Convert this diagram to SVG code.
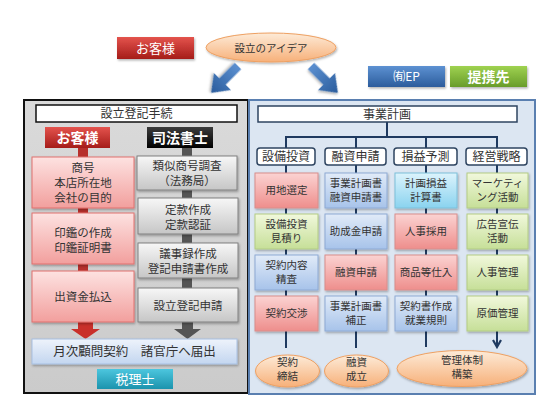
<svg xmlns="http://www.w3.org/2000/svg" width="540" height="405" viewBox="0 0 540 405">
<defs>
<linearGradient id="gRedHdr" x1="0" y1="0" x2="0" y2="1"><stop offset="0" stop-color="#e4534d"/><stop offset="1" stop-color="#a51c19"/></linearGradient>
<linearGradient id="gBlackHdr" x1="0" y1="0" x2="0" y2="1"><stop offset="0" stop-color="#3c3c3c"/><stop offset="1" stop-color="#000"/></linearGradient>
<linearGradient id="gPink" x1="0" y1="0" x2="0" y2="1"><stop offset="0" stop-color="#fde2e1"/><stop offset="1" stop-color="#f29f9d"/></linearGradient>
<linearGradient id="gGrey" x1="0" y1="0" x2="0" y2="1"><stop offset="0" stop-color="#f7f7f7"/><stop offset="1" stop-color="#c6c6c6"/></linearGradient>
<linearGradient id="gLBlue" x1="0" y1="0" x2="0" y2="1"><stop offset="0" stop-color="#eef3fb"/><stop offset="1" stop-color="#c3d6f0"/></linearGradient>
<linearGradient id="gTeal" x1="0" y1="0" x2="0" y2="1"><stop offset="0" stop-color="#4cc6de"/><stop offset="1" stop-color="#1b93ad"/></linearGradient>
<linearGradient id="gEP" x1="0" y1="0" x2="0" y2="1"><stop offset="0" stop-color="#5d91d2"/><stop offset="1" stop-color="#2c5c9c"/></linearGradient>
<linearGradient id="gGreenBtn" x1="0" y1="0" x2="0" y2="1"><stop offset="0" stop-color="#9fd250"/><stop offset="1" stop-color="#689c2a"/></linearGradient>
<linearGradient id="gR" x1="0" y1="0" x2="0" y2="1"><stop offset="0" stop-color="#fbd3d2"/><stop offset="1" stop-color="#ee8e8c"/></linearGradient>
<linearGradient id="gG" x1="0" y1="0" x2="0" y2="1"><stop offset="0" stop-color="#f1f8dc"/><stop offset="1" stop-color="#c6df98"/></linearGradient>
<linearGradient id="gB" x1="0" y1="0" x2="0" y2="1"><stop offset="0" stop-color="#e1ebf8"/><stop offset="1" stop-color="#a7c3ea"/></linearGradient>
<linearGradient id="gC" x1="0" y1="0" x2="0" y2="1"><stop offset="0" stop-color="#dcf3fc"/><stop offset="1" stop-color="#8ad3ef"/></linearGradient>
<linearGradient id="gO" x1="0" y1="0" x2="0" y2="1"><stop offset="0" stop-color="#fdebd8"/><stop offset="1" stop-color="#f7b079"/></linearGradient>
<linearGradient id="gArrow" x1="0" y1="0" x2="1" y2="0"><stop offset="0" stop-color="#5b8fd0"/><stop offset="1" stop-color="#2a5c9c"/></linearGradient>
<linearGradient id="gLeftPanel" x1="0" y1="0" x2="0" y2="1"><stop offset="0" stop-color="#dadada"/><stop offset="1" stop-color="#cbcbcb"/></linearGradient>
<filter id="sh" x="-10%" y="-10%" width="130%" height="140%"><feDropShadow dx="1" dy="1.5" stdDeviation="1" flood-color="#000" flood-opacity="0.3"/></filter>
<marker id="chev" viewBox="0 0 10 10" refX="8" refY="5" markerWidth="5" markerHeight="5" orient="auto"><path d="M1,1 L8,5 L1,9" fill="none" stroke="#1f3a60" stroke-width="2.2"/></marker>
</defs>
<style>
text{font-family:"Noto Sans CJK JP","Noto Sans",sans-serif;text-anchor:middle;fill:#333}
.w{fill:#fff}
.b{font-weight:bold}
.t13{font-size:13px}
.tl{font-size:11.5px}
.t12{font-size:12px}
.t11{font-size:10.5px}
.pink{fill:url(#gPink);stroke:#e0716e;stroke-width:1;filter:url(#sh)}
.grey{fill:url(#gGrey);stroke:#808080;stroke-width:1;filter:url(#sh)}
.R{fill:url(#gR);stroke:#d88e8c;stroke-width:1;filter:url(#sh)}
.G{fill:url(#gG);stroke:#b3cc84;stroke-width:1;filter:url(#sh)}
.B{fill:url(#gB);stroke:#8eaad4;stroke-width:1;filter:url(#sh)}
.C{fill:url(#gC);stroke:#7cc0da;stroke-width:1;filter:url(#sh)}
.O{fill:url(#gO);stroke:#eea062;stroke-width:1;filter:url(#sh)}
.tab{fill:#fff;stroke:#2e4460;stroke-width:1.5}
.nav{stroke:#1f3a60;stroke-width:2;fill:none}
</style>
<rect width="540" height="405" fill="#fff"/>

<!-- panels -->
<g id="left-panel">
<rect x="24" y="100" width="224" height="293" fill="url(#gLeftPanel)" stroke="#111" stroke-width="2"/>
</g>
<g id="right-panel">
<rect x="249" y="100" width="286" height="294" fill="#dce6f2" stroke="#5a7fb0" stroke-width="2"/>
</g>

<!-- connectors -->
<g id="connectors">
<polygon points="0,-4.5 22,-4.5 22,-12 38,0 22,12 22,4.5 0,4.5" fill="url(#gArrow)" transform="translate(238,66) rotate(135)" filter="url(#sh)"/>
<polygon points="0,-4.5 22,-4.5 22,-12 38,0 22,12 22,4.5 0,4.5" fill="url(#gArrow)" transform="translate(311,66) rotate(45)" filter="url(#sh)"/>
<rect x="78" y="148" width="10" height="9" fill="#b7302c"/>
<rect x="78" y="208" width="10" height="5" fill="#b7302c"/>
<rect x="78" y="264" width="10" height="7" fill="#b7302c"/>
<polygon points="78,322 93,322 93,329 100,329 85.5,339 71,329 78,329" fill="#c9302b"/>
<rect x="182" y="148" width="10" height="8" fill="#555"/>
<rect x="182" y="190" width="10" height="8" fill="#555"/>
<rect x="182" y="234" width="10" height="9" fill="#555"/>
<rect x="182" y="278" width="10" height="10" fill="#555"/>
<polygon points="182,322 193,322 193,329 201,329 187.5,339 174,329 182,329" fill="#555"/>
<path class="nav" d="M387,122 V137 M286,148 V137 H497 V148 M356,137 V148 M426,137 V148"/>
<path class="nav" d="M286,165 V173 M356,165 V173 M426,165 V173 M497,165 V173"/>
<path class="nav" d="M286,208 V214 M356,208 V214 M426,208 V214 M497,208 V214"/>
<path class="nav" d="M286,249 V255 M356,249 V255 M426,249 V255 M497,249 V255"/>
<path class="nav" d="M286,290 V296 M356,290 V296 M426,290 V296 M497,290 V296"/>
<path class="nav" d="M286,331 V348 M356,331 V348 M426,331 V347 M497,331 V347" marker-end="url(#chev)"/>
</g>

<!-- top -->
<g id="n-okyaku-top"><rect x="117" y="37" width="77" height="22" fill="url(#gRedHdr)" filter="url(#sh)"/><text x="155.5" y="53" class="w t13">お客様</text></g>
<g id="n-idea"><ellipse cx="271" cy="47.5" rx="65" ry="14.5" class="O"/><text x="271" y="51.5" class="t11">設立のアイデア</text></g>
<g id="n-ep"><rect x="368" y="66" width="77" height="21" fill="url(#gEP)" filter="url(#sh)"/><text x="406.5" y="81" class="w t12">㈲EP</text></g>
<g id="n-teikei"><rect x="450" y="66" width="77" height="21" fill="url(#gGreenBtn)" filter="url(#sh)"/><text x="488.5" y="81.5" class="w b" style="font-size:14px">提携先</text></g>

<!-- left -->
<g id="n-title-left"><rect x="36" y="105" width="201" height="17" fill="#fff" stroke="#111" stroke-width="1.5"/><text x="136.5" y="118" class="t12">設立登記手続</text></g>
<g id="n-okyaku"><rect x="45" y="127" width="65" height="21" fill="url(#gRedHdr)"/><text x="77.5" y="143" class="w b" style="font-size:14px">お客様</text></g>
<g id="n-shiho"><rect x="147" y="127" width="66" height="21" fill="url(#gBlackHdr)"/><text x="180" y="143" class="w b" style="font-size:14px">司法書士</text></g>
<g id="n-l1"><rect x="32" y="157" width="102" height="51" class="pink"/><text x="83" y="172" class="tl">商号</text><text x="83" y="187" class="tl">本店所在地</text><text x="83" y="202" class="tl">会社の目的</text></g>
<g id="n-l2"><rect x="32" y="213" width="102" height="51" class="pink"/><text x="83" y="237" class="tl">印鑑の作成</text><text x="83" y="252" class="tl">印鑑証明書</text></g>
<g id="n-l3"><rect x="32" y="271" width="102" height="51" class="pink"/><text x="83" y="301" class="tl">出資金払込</text></g>
<g id="n-g1"><rect x="137" y="156" width="100" height="34" class="grey"/><text x="187" y="170" class="tl">類似商号調査</text><text x="187" y="185" class="tl">（法務局）</text></g>
<g id="n-g2"><rect x="138" y="198" width="100" height="36" class="grey"/><text x="188" y="214" class="tl">定款作成</text><text x="188" y="228.5" class="tl">定款認証</text></g>
<g id="n-g3"><rect x="138" y="243" width="100" height="35" class="grey"/><text x="188" y="258" class="tl">議事録作成</text><text x="188" y="272.5" class="tl">登記申請書作成</text></g>
<g id="n-g4"><rect x="138" y="288" width="100" height="34" class="grey"/><text x="188" y="309.5" class="tl">設立登記申請</text></g>
<g id="n-getsuji"><rect x="32" y="339" width="205" height="25" fill="url(#gLBlue)" stroke="#a8c0e2" stroke-width="1" filter="url(#sh)"/><text x="134.5" y="356" style="font-size:12.5px">月次顧問契約　諸官庁へ届出</text></g>
<g id="n-zeirishi"><rect x="97" y="369" width="76" height="20" fill="url(#gTeal)"/><text x="135" y="384" class="w t13">税理士</text></g>

<!-- right -->
<g id="n-jigyo"><rect x="258" y="106" width="259" height="16" fill="#fff" stroke="#2e4460" stroke-width="1.5"/><text x="387" y="118.5" class="t12">事業計画</text></g>
<g id="n-h1"><rect x="257" y="148" width="58" height="17" rx="3" class="tab"/><text x="286" y="161" class="t12">設備投資</text></g>
<g id="n-h2"><rect x="325" y="148" width="61" height="17" rx="3" class="tab"/><text x="355.5" y="161" class="t12">融資申請</text></g>
<g id="n-h3"><rect x="394" y="148" width="63" height="17" rx="3" class="tab"/><text x="425.5" y="161" class="t12">損益予測</text></g>
<g id="n-h4"><rect x="466" y="148" width="61" height="17" rx="3" class="tab"/><text x="496.5" y="161" class="t12">経営戦略</text></g>

<g id="n-c1r1"><rect x="255" y="173" width="63" height="35" class="R"/><text x="286.5" y="194" class="t11">用地選定</text></g>
<g id="n-c1r2"><rect x="255" y="214" width="63" height="35" class="G"/><text x="286.5" y="228" class="t11">設備投資</text><text x="286.5" y="242" class="t11">見積り</text></g>
<g id="n-c1r3"><rect x="255" y="255" width="63" height="35" class="B"/><text x="286.5" y="269" class="t11">契約内容</text><text x="286.5" y="283" class="t11">精査</text></g>
<g id="n-c1r4"><rect x="255" y="296" width="63" height="35" class="R"/><text x="286.5" y="317" class="t11">契約交渉</text></g>

<g id="n-c2r1"><rect x="325" y="173" width="62" height="35" class="B"/><text x="356" y="187" class="t11">事業計画書</text><text x="356" y="201" class="t11">融資申請書</text></g>
<g id="n-c2r2"><rect x="325" y="214" width="62" height="35" class="B"/><text x="356" y="235" class="t11">助成金申請</text></g>
<g id="n-c2r3"><rect x="325" y="255" width="62" height="35" class="R"/><text x="356" y="276" class="t11">融資申請</text></g>
<g id="n-c2r4"><rect x="325" y="296" width="62" height="35" class="B"/><text x="356" y="310" class="t11">事業計画書</text><text x="356" y="324" class="t11">補正</text></g>

<g id="n-c3r1"><rect x="395" y="173" width="62" height="35" class="C"/><text x="426" y="187" class="t11">計画損益</text><text x="426" y="201" class="t11">計算書</text></g>
<g id="n-c3r2"><rect x="395" y="214" width="62" height="35" class="R"/><text x="426" y="235" class="t11">人事採用</text></g>
<g id="n-c3r3"><rect x="395" y="255" width="62" height="35" class="R"/><text x="426" y="276" class="t11">商品等仕入</text></g>
<g id="n-c3r4"><rect x="395" y="296" width="62" height="35" class="B"/><text x="426" y="310" class="t11">契約書作成</text><text x="426" y="324" class="t11">就業規則</text></g>

<g id="n-c4r1"><rect x="467" y="173" width="61" height="35" class="G"/><text x="497.5" y="187" class="t11">マーケティ</text><text x="497.5" y="201" class="t11">ング活動</text></g>
<g id="n-c4r2"><rect x="467" y="214" width="61" height="35" class="G"/><text x="497.5" y="228" class="t11">広告宣伝</text><text x="497.5" y="242" class="t11">活動</text></g>
<g id="n-c4r3"><rect x="467" y="255" width="61" height="35" class="G"/><text x="497.5" y="276" class="t11">人事管理</text></g>
<g id="n-c4r4"><rect x="467" y="296" width="61" height="35" class="G"/><text x="497.5" y="317" class="t11">原価管理</text></g>

<g id="n-keiyaku"><ellipse cx="287.5" cy="371" rx="32" ry="16" class="O"/><text x="287.5" y="365.5" class="t11">契約</text><text x="287.5" y="379.5" class="t11">締結</text></g>
<g id="n-yushi"><ellipse cx="356.5" cy="371" rx="32" ry="16" class="O"/><text x="356.5" y="365.5" class="t11">融資</text><text x="356.5" y="379.5" class="t11">成立</text></g>
<g id="n-kanri"><ellipse cx="462" cy="368.5" rx="65" ry="18" class="O"/><text x="462" y="363.5" class="t11">管理体制</text><text x="462" y="377.5" class="t11">構築</text></g>
</svg>
